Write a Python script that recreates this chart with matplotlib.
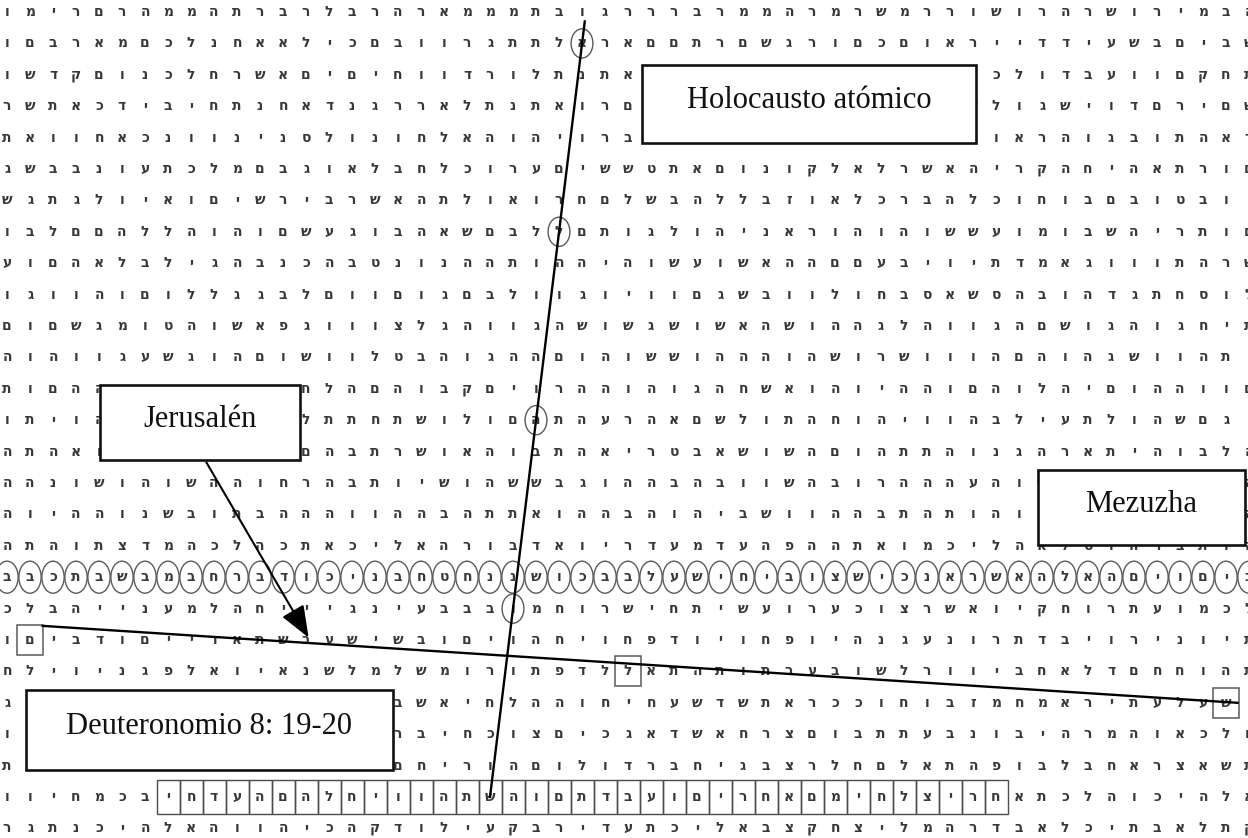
import matplotlib.pyplot as plt
from matplotlib.patches import Ellipse, Rectangle

# letter matrix, read left to right, one string per row (groups of five)
rows = [
    "ו מ י ר ם  ר ה מ מ ה  ת ר ב ר ל  ב ר ה ר א  מ מ מ ת ב  ו ג ר ר ר  ב ר מ מ ה  ר מ ר ש מ  ר ר ו ש ו  ר ה ר ש ו  ר י מ ב ה",
    "ו ם ב ר א  מ ם כ ל נ  ח א א ל י  כ ם ב ו ו  ר ג ת ת ל  א ר א ם ם  ת ר ם ש ג  ר ו ם כ ם  ו א ר י י  ד ד י ע ש  ב ם י ב ש",
    "ו ש ד ק ם  ו נ כ ל ח  ר ש א ם י  ם י ח ו ו  ד ר ו ל ת  נ ת א ר ו  א ב ם ה ל  ת ו י ש נ  ר ם ו כ ל  ו ד ב ע ו  ו ם ק ח ת",
    "ר ש ת א כ  ד י ב י ח  ת נ ח א ד  נ ג ר ר א  ל ת נ ת א  ו ר ם ו א  ה ל ב י ת  ש ו ר ם נ  ה ו ד ל ו  ג ש י ו ד  ם ר י ם ש",
    "ת א ו ו ח  א כ נ ו ו  נ י נ ס ל  ו נ ו ח ל  א ה ו ה י  ו ר ב ת ל  א ה ו ש מ  ר נ ל ו מ  ע ל כ ו א  ר ה ו ג ב  ו ת ה א ר",
    "ג ש ב ב נ  ו ע ת כ ל  מ ם ב ג ו  א ל ב ח ל  כ ו ר ע ם  י ש ש ט ת  א ם ו נ ו  ק ל א ל ר  ש א ה י ר  ק ה ח י ה  א ת ר ו ם",
    "ש ג ת ג ל  ו י א ו ם  י ש ר י ב  ר ש א ה ת  ל ו א ו ר  ח ם ל ש ב  ה ל ל ב ז  ו א ל כ ר  ב ה ל כ ו  ח ו ב ם ב  ו ט ב ו י",
    "ו ב ל ם ם  ה ל ל ה ו  ה ו ם ש ע  ג ו ב ה א  ש ם ב ל ל  ם ת ו ג ל  ו ה י נ א  ר ו ה ו ה  ו ש ש ע ו  מ ו ב ש ה  י ר ת ו ם",
    "ע ו ם ה א  ל ב ל י ג  ה ב נ כ ה  ב ט נ ו נ  ה ה ת ו ה  ה י ה ו ש  ע ו ש א ה  ה ם ם ע ב  י ו י ת ד  מ א ג ו ו  ו ת ה ר ש",
    "ו ג ו ו ה  ו ם ו ל ל  ג ג ב ל ם  ו ו ם ו ג  ם ב ל ו ו  ג ו י ו ו  ם ג ש ב ו  ו ל ו ח ב  ס א ש ס ה  ב ו ה ד ג  ת ח ס ו ל",
    "ם ו ם ש ג  מ ו ט ה ו  ש א פ ג ו  ו ו צ ל ג  ה ו ו ג ה  ש ו ש ג ש  ו ש א ה ש  ו ה ה ג ל  ה ו ו ג ה  ם ש ו ג ה  ו ג ח י ת",
    "ה ו ה ו ו  ג ע ש ג ו  ה ם ו ש ו  ו ל ט ב ה  ו ג ה ה ם  ו ה ו ש ש  ו ה ה ה ו  ה ש ו ר ש  ו ו ו ה ם  ה ו ה ג ש  ו ו ה ת י",
    "ת ו ם ה ה  ו ה ם ה ו  ה ג ב ח ל  ה ם ה ו ב  ק ם י ו ר  ה ה ו ה ו  ג ה ח ש א  ו ה ו י ה  ה ו ם ה ו  ל ה י ם ו  ה ה ו ו ם",
    "ו ת י ו ה  ג ל ח ר ה  ת ו ה ל ת  ת ח ת ש ו  ל ו ם ה ת  ה ע ר ה א  ם ש ל ו ת  ה ח ו ה י  ו ו ה ב ל  י ע ת ל ו  ה ש ם ג ו",
    "ה ת ה א ו  ה ת ו ח ב  מ א ש ם ה  ב ת ר ש ו  א ה ו ב ת  ה א י ר ט  ב א ש ו ש  ה ם ו ה ת  ת ה ו נ ג  ה ר א ת י  ה ו ב ל ה",
    "ה ה נ ו ש  ו ה ו ש ה  ה ו ח ר ה  ב ת ו י ש  ו ה ש ש ב  ג ו ה ה ב  ה ב ו ו ש  ה ב ו ר ה  ה ה ע ה ו  ש ב ע ה ה  ו ע ו ת ה",
    "ה ו י ה ה  ו נ ש ב ו  ת ב ה ה ה  ו ו ה ה ב  ה ת ת א ו  ה ה ב ה ו  ה י ב ש ו  ו ה ה ב ת  ה ת ו ה ו  ה י ה ב ם  ו ה ר ו ה",
    "ה ת ה ו ת  צ ד מ ה כ  ל ה כ ת א  כ י ל א ה  ר ו ב ד א  ו י ר ד ע  מ ד ע ה פ  ה ה ת א ו  מ כ י ל ה  א ל ט ו ה  ר ב ת ו ה",
    "ב ב כ ת ב  ש ב מ ב ח  ר ב ד ו כ  י נ ב ח ט  ח נ נ ש ו  כ ב ב ל ע  ש י ח י ב  ו צ ש י כ  נ א ר ש א  ה ל א ה ם  י ו ם י ב",
    "כ ל ב ה י  י נ ע מ ל  ה ח י י י  ג נ י ע ב  ב ב ו מ ח  ו ר ש י ח  ת י ש ע ו  ר ע כ ו צ  ר ש א ו י  ק ח ו ר ת  ע ו מ כ ל",
    "ו ם י ב ד  ו ם י י ד  א ת ש ב ע  ש י ש ב ו  ם י ו ה ח  י ו ח פ ד  ו י ו ח פ  ו י ה נ ג  ע נ ו ר ת  ד ב י ו ר  י נ ו י ת",
    "ח ל י ו י  נ ג פ ל א  ו י א נ ש  ל מ ל ש מ  ו ר ו ת פ  ד ל ל א ת  ה ת ו ת ר  ע ב ו ש ל  ר ו ו י ב  ח א ל ד ם  ח ח ו ה ת",
    "ג ל ב ת ה  ק ח כ י ו  מ ח ג י ל  א ר ב ש א  י ח ל ה ה  ו ח י ח ע  ש ד ש ת א  ר כ כ ו ח  ו ב ז מ ח  מ א ר י ת  ע ל ע ש י",
    "ו ב ת א ל  ה ו כ ב ר  ש ת ו ה ל  ה י ר ב י  ח כ ו צ ם  י כ ג א ד  ש א ח ר צ  ם ו ב ת ת  ע ב נ ו ב  י ה ר מ ה  ו א כ ל ח",
    "ת ו נ ה ל  ר ד א ו ה  ב ה ת ו ר  י ה ם ח י  ר ו ה ם ו  ל ו ד ר ב  ח י ג ב צ  ר ל ח ם ל  א ת ה פ ו  ב ל ב ח א  ר צ א ש ת",
    "ו ו י ח מ  כ ב י ח ד  ע ה ם ה ל  ח י ו ו ה  ת ש ה ו ם  ת ד ב ע ו  ם י ר ח א  ם מ י ח ל  צ י ר ח א  ת כ ל ה ו  כ י ה ל א",
    "ר ג ת נ כ  י ה ל א ה  ו ו ה י כ  ה ק ד ו ל  י ע ק ב ר  י ד ע ת כ  י ל א ב צ  ק ח צ י ל  מ ה ר ד ב  א ל כ י ת  ב א ל ת ק",
]
grid = [r.replace(" ", "") for r in rows]

# marked letters: (row, col)
circle_row = 18
els_circles = [(1, 25), (7, 24), (13, 23), (19, 22)]
mezuzha_boxes = [(20, 1), (21, 27), (22, 53)]
boxed_row = 25
boxed_cols = range(7, 44)
vertical_top = (0.3, 25.12)
vertical_end = (25, 21)

labels = ["Holocausto atómico", "Jerusalén", "Mezuzha", "Deuteronomio 8: 19-20"]

# pixel layout of the letter grid
W, H = 1248, 838
X0, CW = 7.0, 23.0
Y0, RH = 12.0, 31.4


def col(px):
    return (px - X0) / CW


def row(py):
    return (py - Y0) / RH


fig = plt.figure(figsize=(W / 100, H / 100), dpi=100)
ax = fig.add_axes([0, 0, 1, 1])
ax.set_xlim(col(0), col(W))
ax.set_ylim(row(H), row(0))
ax.axis("off")

for i, line in enumerate(grid):
    for j, ch in enumerate(line):
        ax.text(j, i, ch, ha="center", va="center", fontsize=10,
                color="#383838", fontweight="bold", family="DejaVu Sans",
                clip_on=True)

# top of the page is cut off
ax.axhspan(row(0), row(10), color="white", zorder=2)

for j in range(len(grid[circle_row]) + 1):
    ax.add_patch(Ellipse((j, circle_row), 0.97, 1.02, fill=False,
                         ec="#5a5a5a", lw=1.0, zorder=3))
for i, j in els_circles:
    ax.add_patch(Ellipse((j, i), 0.95, 0.93, fill=False,
                         ec="#5a5a5a", lw=1.0, zorder=3))
for i, j in mezuzha_boxes:
    ax.add_patch(Rectangle((j - 0.55, i - 0.48), 1.1, 0.96, fill=False,
                           ec="#5a5a5a", lw=1.1, zorder=3))
for j in boxed_cols:
    ax.add_patch(Rectangle((j - 0.5, boxed_row - 0.53), 1.0, 1.06, fill=False,
                           ec="#4c4c4c", lw=1.0, zorder=3))

# lines joining the coded words
ax.plot([vertical_top[1], vertical_end[1]], [vertical_top[0], vertical_end[0]],
        color="black", lw=1.7, zorder=4)
m0, m1 = mezuzha_boxes[0], mezuzha_boxes[-1]
ax.plot([m0[1] + 0.55, m1[1] + 0.5], [m0[0] - 0.45, m1[0]],
        color="black", lw=1.7, zorder=4)

# label boxes (pixel boxes: left, top, right, bottom)
boxes = [
    (642, 65, 976, 143),
    (100, 385, 300, 460),
    (1038, 470, 1245, 545),
    (26, 690, 393, 770),
]
for text, (l, t, r, b) in zip(labels, boxes):
    ax.add_patch(Rectangle((col(l), row(t)), col(r) - col(l), row(b) - row(t),
                           fc="white", ec="#111111", lw=1.9, zorder=5))
    ax.text((col(l) + col(r)) / 2, (row(t) + row(b)) / 2 - 0.1, text,
            ha="center", va="center", fontsize=22,
            family="Liberation Serif", color="#111111", zorder=6)

# arrow from Jerusalén to its letter
ax.annotate("", xy=(col(310), row(640)), xytext=(col(205), row(460)),
            arrowprops=dict(arrowstyle="-|>,head_length=1.4,head_width=0.55",
                            mutation_scale=14, color="black", lw=1.5),
            zorder=6)

fig.savefig("out.png", dpi=100)
